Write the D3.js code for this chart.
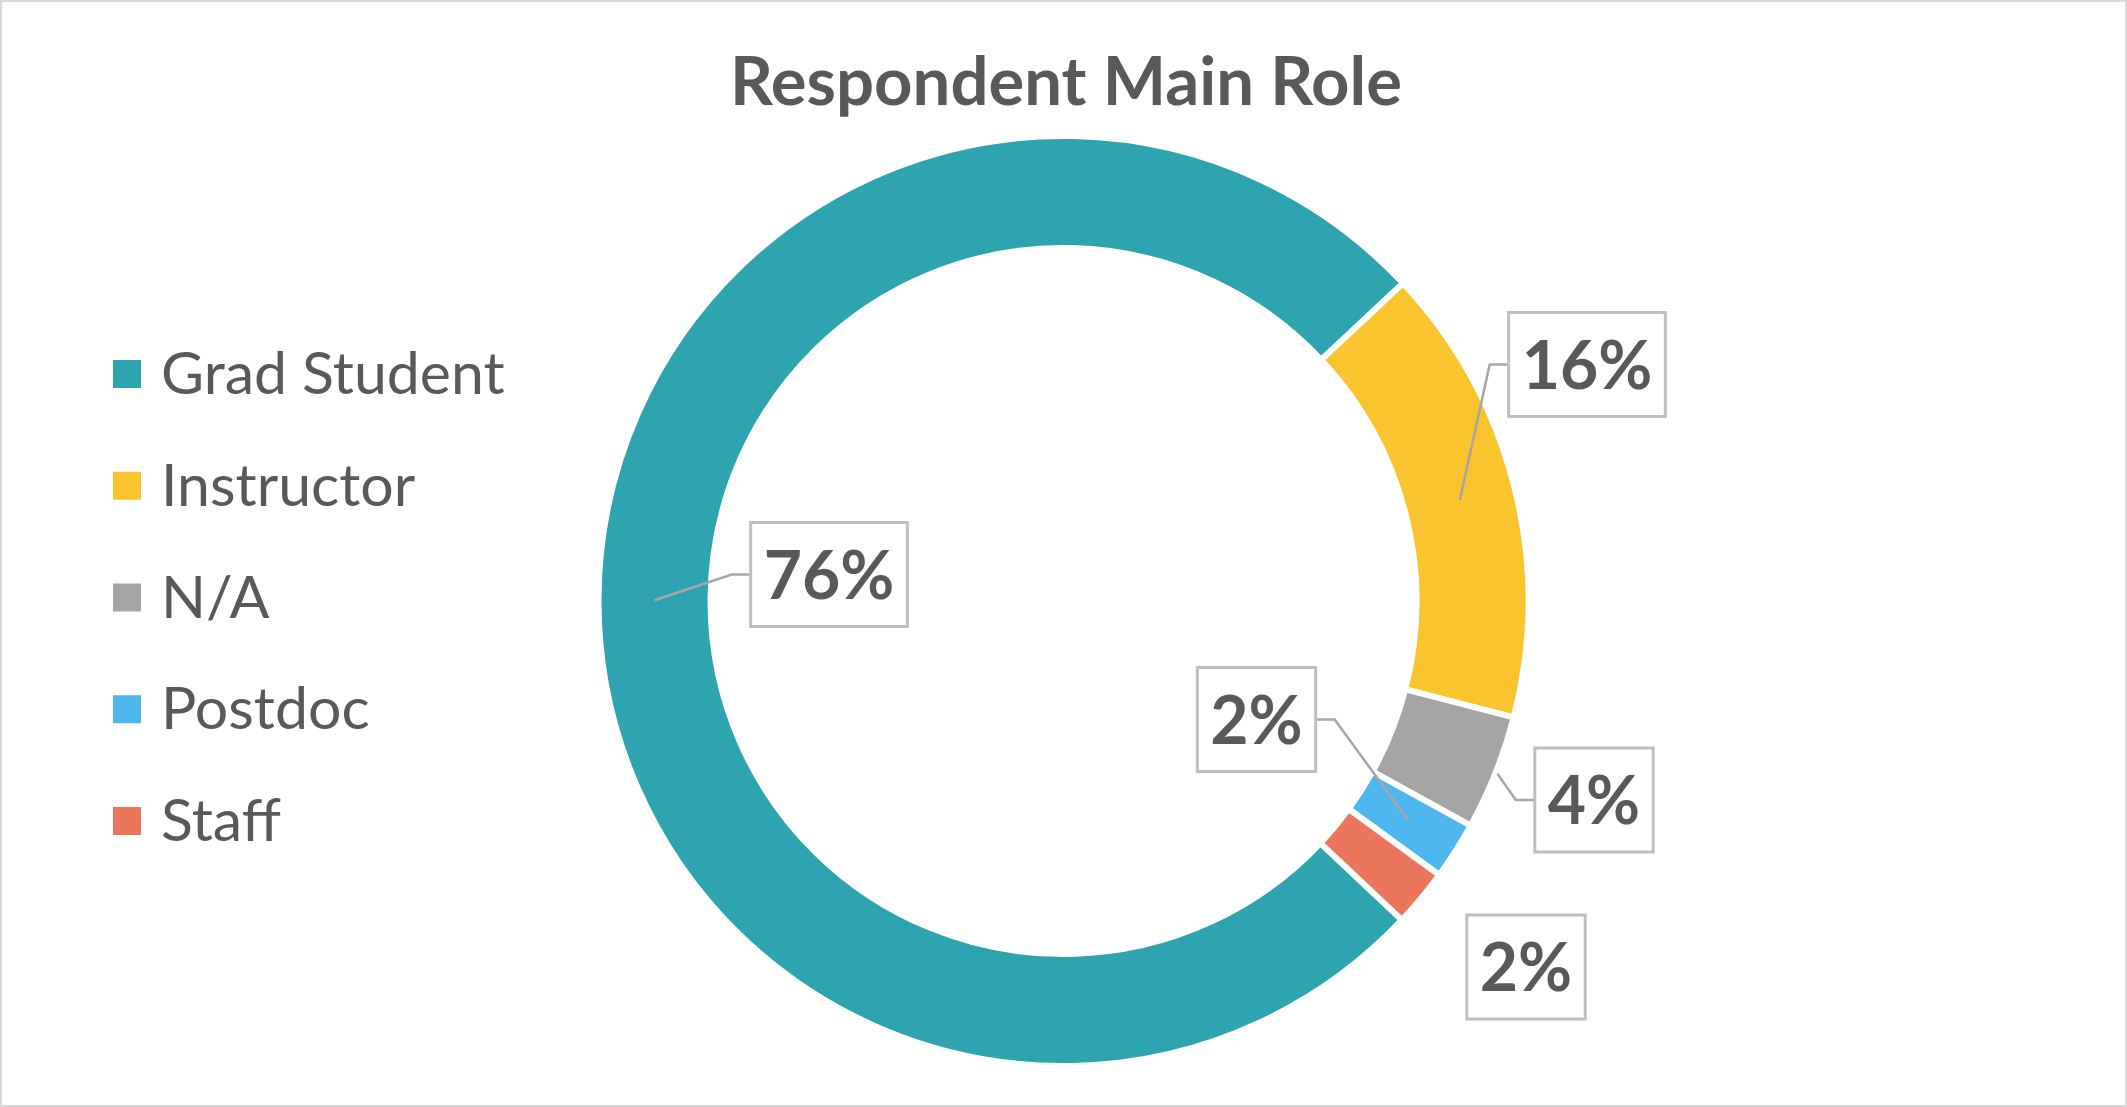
<!DOCTYPE html>
<html>
<head>
<meta charset="utf-8">
<script src="https://cdn.jsdelivr.net/npm/d3@7"></script>
<style>
  html, body { margin: 0; padding: 0; background: #fff; }
  svg { display: block; }
</style>
</head>
<body>
<svg id="chart" width="2127" height="1107"></svg>
<script>
// ---- data ----
const categories = ["Grad Student", "Instructor", "N/A", "Postdoc", "Staff"];
const values = [38, 8, 2, 1, 1];               // respondent counts (sum 50)
const percentLabels = ["76%", "16%", "4%", "2%", "2%"];
const colors = ["#2EA4B0", "#F9C42D", "#A5A5A5", "#4EB6EE", "#EC765B"];
const title = "Respondent Main Role";

// ---- layout ----
const W = 2127, H = 1107;
const cx = 1063.5, cy = 601;
const outerR = 465, innerR = 353;
const startDeg = 133.3;
const textColor = "#595959";
// label box centres (layout, not data) and leader options
const labelLayout = [
  { x: 829,  y: 574.5, leader: true,  anchor: "centroid" },
  { x: 1587, y: 364.5, leader: true,  anchor: "centroid" },
  { x: 1594, y: 800,   leader: true,  anchor: "outer" },
  { x: 1256.5, y: 719.5, leader: true, anchor: "centroid" },
  { x: 1526, y: 967,   leader: false, anchor: "centroid" }
];

const svg = d3.select("#chart");

svg.append("rect")
  .attr("x", 1).attr("y", 1).attr("width", W - 2).attr("height", H - 2)
  .attr("fill", "#fff").attr("stroke", "#D9D9D9").attr("stroke-width", 2);

// title
svg.append("text")
  .attr("x", 1066).attr("y", 105)
  .attr("text-anchor", "middle")
  .attr("font-family", "Lato, 'Open Sans', sans-serif")
  .attr("font-weight", 700)
  .attr("font-size", 67)
  .attr("fill", textColor)
  .text(title);

// donut
const start = startDeg * Math.PI / 180;
const pie = d3.pie().sort(null).value(d => d).startAngle(start).endAngle(start + 2 * Math.PI);
const arcs = pie(values);
const arc = d3.arc().innerRadius(innerR).outerRadius(outerR);
const color = d3.scaleOrdinal().domain(categories).range(colors);

const g = svg.append("g").attr("transform", `translate(${cx},${cy})`);
g.selectAll("path.slice")
  .data(arcs)
  .join("path")
  .attr("class", "slice")
  .attr("d", arc)
  .attr("fill", (d, i) => color(categories[i]))
  .attr("stroke", "#fff")
  .attr("stroke-width", 6)
  .attr("stroke-linejoin", "miter");

// labels
const labelFont = 66;
const boxH = 104;
arcs.forEach((a, i) => {
  const L = labelLayout[i];
  const tmp = svg.append("text")
    .attr("font-family", "Lato, 'Open Sans', sans-serif")
    .attr("font-weight", 700)
    .attr("font-size", labelFont)
    .text(percentLabels[i]);
  const tw = tmp.node().getComputedTextLength();
  tmp.remove();
  const boxW = tw + 26;
  const bx = L.x - boxW / 2, by = L.y - boxH / 2;

  if (L.leader) {
    let p;
    if (L.anchor === "outer") {
      const m = (a.startAngle + a.endAngle) / 2;
      p = [Math.sin(m) * (outerR + 2), -Math.cos(m) * (outerR + 2)];
    } else {
      p = arc.centroid(a);
    }
    const ax = cx + p[0], ay = cy + p[1];
    let edgeX, stubX;
    if (ax < bx) { edgeX = bx; stubX = bx - 19; }
    else { edgeX = bx + boxW; stubX = bx + boxW + 19; }
    svg.append("path")
      .attr("d", d3.line()([[edgeX, L.y], [stubX, L.y], [ax, ay]]))
      .attr("fill", "none")
      .attr("stroke", "#A6A6A6")
      .attr("stroke-width", 2.5);
  }

  svg.append("rect")
    .attr("x", bx).attr("y", by).attr("width", boxW).attr("height", boxH)
    .attr("fill", "#fff").attr("stroke", "#BFBFBF").attr("stroke-width", 3);
  svg.append("text")
    .attr("x", L.x).attr("y", L.y + 24)
    .attr("text-anchor", "middle")
    .attr("font-family", "Lato, 'Open Sans', sans-serif")
    .attr("font-weight", 700)
    .attr("font-size", labelFont)
    .attr("fill", textColor)
    .text(percentLabels[i]);
});

// legend
const ly = d3.scalePoint().domain(categories).range([374, 821]);
const legend = svg.append("g");
const items = legend.selectAll("g").data(categories).join("g")
  .attr("transform", d => `translate(0,${ly(d)})`);
items.append("rect")
  .attr("x", 113).attr("y", -14).attr("width", 28).attr("height", 28)
  .attr("fill", d => color(d));
items.append("text")
  .attr("x", 161).attr("y", 20)
  .attr("font-family", "Lato, 'Open Sans', sans-serif")
  .attr("font-size", 59)
  .attr("fill", textColor)
  .text(d => d);
</script>
</body>
</html>
